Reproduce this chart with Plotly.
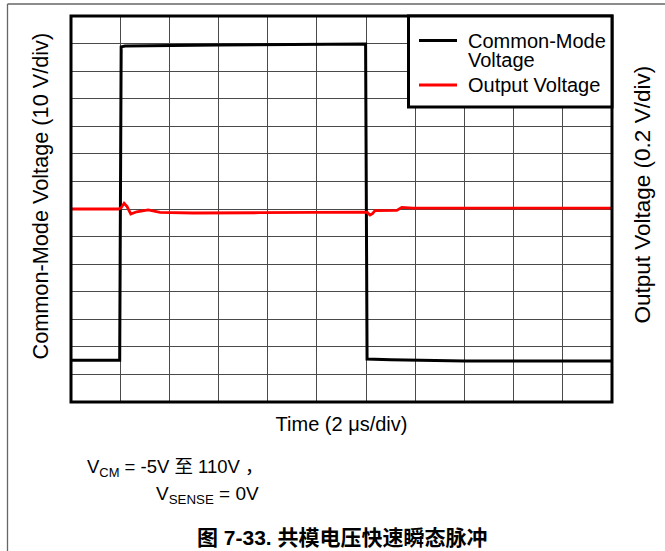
import plotly.graph_objects as go

# ---- data ----
# Common-mode voltage (V), time in microseconds
t_cm = [0.0, 1.98, 2.04, 2.2, 6.0, 11.9, 11.98, 12.04, 13.0, 16.0, 22.0]
v_cm = [-4.9, -4.9, 108.8, 109.1, 109.5, 109.8, 109.8, -4.4, -4.7, -5.1, -5.1]

# Output voltage (V), time in microseconds
t_out = [0.03, 1.92, 2.03, 2.16, 2.28, 2.43, 2.67, 3.14, 3.62, 4.96, 7.69, 10.4,
         11.96, 12.04, 12.16, 12.26, 12.36, 13.25, 13.45, 13.91, 21.96]
v_out = [0.0, 0.0, 0.006, 0.041, 0.017, -0.036, -0.020, -0.007, -0.025, -0.029,
         -0.027, -0.022, -0.020, -0.023, -0.044, -0.034, -0.012, -0.010, 0.012,
         0.007, 0.006]

names = ["Common-Mode", "Voltage", "Output Voltage"]

x_range = [0, 22]        # 2 us/div, 11 divisions
cm_range = [-20, 120]    # 10 V/div, 14 divisions
out_range = [-1.4, 1.4]  # 0.2 V/div

FONT = "Liberation Sans, Arial, Noto Sans CJK SC, sans-serif"

W, H = 665, 551
L, T, PW, PH = 71, 16, 541, 386


def px(x):
    return (x - L) / PW


def py(y):
    return (T + PH - y) / PH


fig = go.Figure()
fig.add_trace(go.Scatter(x=t_cm, y=v_cm, mode="lines", name="Common-Mode Voltage",
                         line=dict(color="black", width=3), showlegend=False))
fig.add_trace(go.Scatter(x=t_out, y=v_out, mode="lines", name="Output Voltage",
                         line=dict(color="#ff0000", width=2.8), yaxis="y2", showlegend=False))

legend_shapes = [
    dict(type="rect", xref="paper", yref="paper", x0=px(408.5), x1=1, y0=py(107), y1=1,
         fillcolor="white", line=dict(color="black", width=3), layer="above"),
    dict(type="line", xref="paper", yref="paper", x0=px(419), x1=px(457), y0=py(40.5), y1=py(40.5),
         line=dict(color="black", width=3), layer="above"),
    dict(type="line", xref="paper", yref="paper", x0=px(419), x1=px(457), y0=py(85), y1=py(85),
         line=dict(color="#ff0000", width=3), layer="above"),
]

legend_texts = [
    dict(xref="paper", yref="paper", x=px(466), y=py(y), xanchor="left", yanchor="middle",
         showarrow=False, text=t, font=dict(size=20, family=FONT))
    for t, y in zip(names, [40.5, 60.5, 85])
]

axis_titles = [
    dict(xref="paper", yref="paper", x=px(39.5), y=py(196), xanchor="center", yanchor="middle",
         showarrow=False, textangle=-90, text="Common-Mode Voltage (10 V/div)",
         font=dict(size=21.7, family=FONT)),
    dict(xref="paper", yref="paper", x=px(641.5), y=py(195), xanchor="center", yanchor="middle",
         showarrow=False, textangle=-90, text="Output Voltage (0.2 V/div)",
         font=dict(size=22.5, family=FONT)),
]

fig.update_layout(
    width=W, height=H,
    margin=dict(l=L, r=W - L - PW, t=T, b=H - T - PH),
    paper_bgcolor="white", plot_bgcolor="white",
    font=dict(family=FONT, color="black"),
    showlegend=False,
    xaxis=dict(range=x_range, dtick=2, showgrid=True, gridcolor="#4a4a4a", gridwidth=1,
               showticklabels=False, ticks="", zeroline=False, showline=False,
               title=dict(text="Time (2 μs/div)", font=dict(size=20), standoff=14)),
    yaxis=dict(range=cm_range, dtick=10, showgrid=True, gridcolor="#4a4a4a", gridwidth=1,
               showticklabels=False, ticks="", zeroline=False, showline=False),
    yaxis2=dict(range=out_range, overlaying="y", side="right", showgrid=False,
                showticklabels=False, ticks="", zeroline=False, showline=False),
    shapes=[
        dict(type="rect", xref="paper", yref="paper", x0=0, x1=1, y0=0, y1=1,
             line=dict(color="black", width=3), layer="above"),
        # page frame lines
        dict(type="line", xref="paper", yref="paper",
             x0=px(7.5), x1=px(W), y0=py(4), y1=py(4),
             line=dict(color="#666666", width=1.3)),
        dict(type="line", xref="paper", yref="paper",
             x0=px(7.5), x1=px(7.5), y0=py(4), y1=py(H),
             line=dict(color="#666666", width=1.3)),
    ] + legend_shapes,
    annotations=[
        dict(xref="paper", yref="paper", x=px(85), y=py(467.5),
             xanchor="left", yanchor="middle", showarrow=False,
             text="V<sub>CM</sub> = -5V 至 110V ，", font=dict(size=18.5, family=FONT)),
        dict(xref="paper", yref="paper", x=px(154), y=py(495),
             xanchor="left", yanchor="middle", showarrow=False,
             text="V<sub>SENSE</sub> = 0V", font=dict(size=19, family=FONT)),
        dict(xref="paper", yref="paper", x=px(342), y=py(537),
             xanchor="center", yanchor="middle", showarrow=False,
             text="<b>图 7-33. 共模电压快速瞬态脉冲</b>", font=dict(size=21, family=FONT)),
    ] + legend_texts + axis_titles,
)

fig.write_html("out.html", config={"displayModeBar": False},
               post_script="document.body.style.margin='0px';")
